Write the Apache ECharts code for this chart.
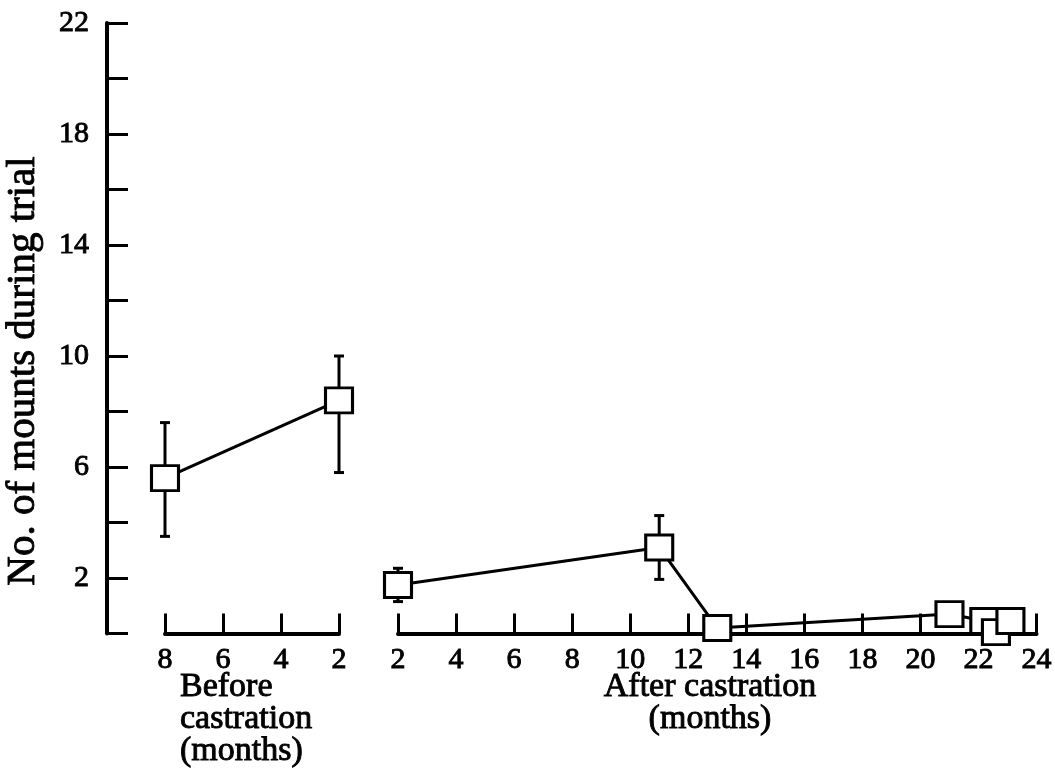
<!DOCTYPE html>
<html>
<head>
<meta charset="utf-8">
<script src="https://cdn.jsdelivr.net/npm/echarts@6/dist/echarts.min.js"></script>
<style>
  html, body { margin: 0; padding: 0; background: #fff; }
  #chart { width: 1055px; height: 784px; }
</style>
</head>
<body>
<div id="chart"></div>
<script>
// Mean mounts per trial, months before castration (counted back from the operation)
const beforeMonths = [8, 2];
const beforeMean   = [5.6, 8.4];
const beforeUpper  = [7.6, 10.0];
const beforeLower  = [3.5, 5.8];

// Mean mounts per trial, months after castration
const afterMonths = [2, 11, 13, 21, 22.2, 22.6, 23.1];
const afterMean   = [1.75, 3.1, 0.2, 0.7, 0.45, 0.05, 0.45];
const afterUpper  = [2.35, 4.25, null, null, null, null, null];
const afterLower  = [1.15, 1.95, null, null, null, null, null];

// Tick labels
const yTickLabels      = [2, 6, 10, 14, 18, 22];
const beforeTickLabels = [8, 6, 4, 2];
const afterTickLabels  = [2, 4, 6, 8, 10, 12, 14, 16, 18, 20, 22, 24];

const FONT = 'Liberation Serif';
const INK = '#000';

const tickText = {
  color: INK,
  fontFamily: FONT,
  fontSize: 30,
  textBorderColor: INK,
  textBorderWidth: 0.9
};

function errorBars(months, upper, lower, axisIdx) {
  const data = [];
  months.forEach((m, i) => {
    if (upper[i] != null && lower[i] != null) data.push([m, lower[i], upper[i]]);
  });
  return {
    type: 'custom',
    xAxisIndex: axisIdx,
    yAxisIndex: axisIdx,
    z: 1,
    clip: false,
    data: data,
    encode: { x: 0, y: [1, 2] },
    renderItem(params, api) {
      const lo = api.coord([api.value(0), api.value(1)]);
      const hi = api.coord([api.value(0), api.value(2)]);
      const w = 5;
      const style = { stroke: INK, lineWidth: 3 };
      return {
        type: 'group',
        children: [
          { type: 'line', shape: { x1: lo[0], y1: lo[1], x2: hi[0], y2: hi[1] }, style },
          { type: 'line', shape: { x1: lo[0] - w, y1: lo[1], x2: lo[0] + w, y2: lo[1] }, style },
          { type: 'line', shape: { x1: hi[0] - w, y1: hi[1], x2: hi[0] + w, y2: hi[1] }, style }
        ]
      };
    }
  };
}

function meanLine(months, means, axisIdx) {
  return {
    type: 'line',
    xAxisIndex: axisIdx,
    yAxisIndex: axisIdx,
    z: 3,
    clip: false,
    data: months.map((m, i) => [m, means[i]]),
    symbol: 'rect',
    symbolSize: [27, 25],
    showAllSymbol: true,
    lineStyle: { color: INK, width: 3 },
    itemStyle: { color: '#fff', borderColor: INK, borderWidth: 3 },
    emphasis: { disabled: true }
  };
}

function xAxisBase(gridIndex, min, max, inverse, labels) {
  return {
    type: 'value',
    gridIndex: gridIndex,
    min: min,
    max: max,
    interval: 2,
    inverse: inverse,
    splitLine: { show: false },
    axisLine: { show: true, lineStyle: { color: INK, width: 4 } },
    axisTick: { show: true, inside: true, length: 20, lineStyle: { color: INK, width: 3 } },
    axisLabel: Object.assign({}, tickText, {
      margin: 12,
      formatter: v => labels.includes(v) ? String(v) : ''
    })
  };
}

function caption(text, x, y, align, size, extra) {
  return Object.assign({
    type: 'text',
    x: x,
    y: y,
    style: {
      text: text,
      fill: INK,
      stroke: INK,
      lineWidth: 0.9,
      fontFamily: FONT,
      fontSize: size,
      lineHeight: 32,
      align: align,
      verticalAlign: 'top'
    }
  }, extra || {});
}

const chart = echarts.init(document.getElementById('chart'));

chart.setOption({
  backgroundColor: '#fff',
  animation: false,
  grid: [
    { left: 165, width: 174, top: 23, bottom: 150.5, containLabel: false },
    { left: 398, right: 18, top: 23, bottom: 150.5, containLabel: false }
  ],
  xAxis: [
    xAxisBase(0, 2, 8, true, beforeTickLabels),
    xAxisBase(1, 2, 24, false, afterTickLabels)
  ],
  yAxis: [
    {
      type: 'value',
      gridIndex: 0,
      min: 0,
      max: 22,
      interval: 2,
      position: 'left',
      offset: 58,
      splitLine: { show: false },
      axisLine: { show: true, lineStyle: { color: INK, width: 4 } },
      axisTick: { show: true, inside: true, length: 21, lineStyle: { color: INK, width: 3 } },
      axisLabel: Object.assign({}, tickText, {
        margin: 18,
        formatter: v => yTickLabels.includes(v) ? String(v) : ''
      })
    },
    {
      type: 'value',
      gridIndex: 1,
      min: 0,
      max: 22,
      interval: 2,
      show: false
    }
  ],
  graphic: [
    // vertical axis title
    caption('No. of mounts during trial', 23, 371, 'center', 41, {
      rotation: Math.PI / 2
    }),
    caption('Before\ncastration\n(months)', 180, 671, 'left', 34),
    caption('After castration\n(months)', 710, 671, 'center', 34)
  ],
  series: [
    errorBars(beforeMonths, beforeUpper, beforeLower, 0),
    meanLine(beforeMonths, beforeMean, 0),
    errorBars(afterMonths, afterUpper, afterLower, 1),
    meanLine(afterMonths, afterMean, 1)
  ]
});
// the rotated title is centred on its anchor
chart.setOption({
  graphic: [{ style: { verticalAlign: 'middle' } }]
});
</script>
</body>
</html>
